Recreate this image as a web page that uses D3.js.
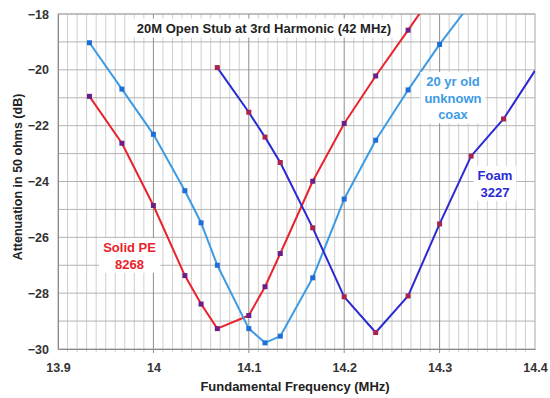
<!DOCTYPE html>
<html>
<head>
<meta charset="utf-8">
<script src="https://cdn.jsdelivr.net/npm/d3@7"></script>
<style>
  html, body { margin: 0; padding: 0; background: #fff; }
  svg { display: block; font-family: "Liberation Sans", Arial, sans-serif; }
</style>
</head>
<body>
<svg id="chart" width="550" height="398"></svg>
<script>
// Fundamental frequency (MHz) for each measured point
const solidPeFreq = [13.933, 13.967, 14.0, 14.033, 14.05, 14.067, 14.1, 14.117, 14.133, 14.167, 14.2, 14.233, 14.267, 14.3];
const solidPeAtten = [-20.95, -22.63, -24.86, -27.37, -28.39, -29.27, -28.80, -27.77, -26.58, -23.99, -21.92, -20.22, -18.58, -16.95];

const oldCoaxFreq = [13.933, 13.967, 14.0, 14.033, 14.05, 14.067, 14.1, 14.117, 14.133, 14.167, 14.2, 14.233, 14.267, 14.3, 14.333];
const oldCoaxAtten = [-19.03, -20.69, -22.31, -24.33, -25.48, -27.0, -29.27, -29.78, -29.54, -27.45, -24.63, -22.52, -20.72, -19.09, -17.6];

const foamFreq = [14.067, 14.1, 14.117, 14.133, 14.167, 14.2, 14.233, 14.267, 14.3, 14.333, 14.367, 14.4];
const foamAtten = [-19.92, -21.52, -22.41, -23.32, -25.66, -28.13, -29.41, -28.10, -25.52, -23.09, -21.76, -20.03];

const xTicks = [13.9, 14.0, 14.1, 14.2, 14.3, 14.4];
const xTickLabels = ["13.9", "14", "14.1", "14.2", "14.3", "14.4"];
const yTicks = [-30, -28, -26, -24, -22, -20, -18];

const titleText = "20M Open Stub at 3rd Harmonic (42 MHz)";
const xTitle = "Fundamental Frequency  (MHz)";
const yTitle = "Attenuation in 50 ohms (dB)";

const series = [
  { name: ["Solid PE", "8268"], freq: solidPeFreq, atten: solidPeAtten, line: "#e8232c", marker: "#6b1f86", label: { x: 13.975, y: -26.53 } },
  { name: ["20 yr old", "unknown", "coax"], freq: oldCoaxFreq, atten: oldCoaxAtten, line: "#3d9be4", marker: "#1c6fd6", label: { x: 14.314, y: -20.58 } },
  { name: ["Foam", "3227"], freq: foamFreq, atten: foamAtten, line: "#2a2ad2", marker: "#a8234f", label: { x: 14.358, y: -23.95 } }
];

const svg = d3.select("#chart");
const margin = { left: 58, right: 15, top: 14, bottom: 49 };
const W = 550, H = 398;
const x = d3.scaleLinear().domain([13.9, 14.4]).range([margin.left, W - margin.right]);
const y = d3.scaleLinear().domain([-30, -18]).range([H - margin.bottom, margin.top]);

const g = svg.append("g");

// minor vertical grid every 0.01 MHz
const minor = d3.range(1, 50).map(i => 13.9 + i * 0.01).filter(v => Math.abs(Math.round(v * 10) / 10 - v) > 1e-6);
g.append("g").selectAll("line").data(minor).join("line")
  .attr("x1", d => x(d)).attr("x2", d => x(d))
  .attr("y1", y(-18)).attr("y2", y(-30) + 3)
  .attr("stroke", "#cfcfcf").attr("stroke-width", 1);

// horizontal grid every 1 dB
g.append("g").selectAll("line").data(d3.range(-29, -17, 1)).join("line")
  .attr("x1", x(13.9)).attr("x2", x(14.4))
  .attr("y1", d => y(d)).attr("y2", d => y(d))
  .attr("stroke", "#b4b4b4").attr("stroke-width", 1);

// major vertical grid every 0.1 MHz
g.append("g").selectAll("line").data(xTicks.slice(1, -1)).join("line")
  .attr("x1", d => x(d)).attr("x2", d => x(d))
  .attr("y1", y(-18)).attr("y2", y(-30) + 4)
  .attr("stroke", "#8e8e8e").attr("stroke-width", 1);

// plot frame
g.append("rect")
  .attr("x", x(13.9)).attr("y", y(-18))
  .attr("width", x(14.4) - x(13.9)).attr("height", y(-30) - y(-18))
  .attr("fill", "none").attr("stroke", "#a8a8a8").attr("stroke-width", 1);

// axes
const xAxis = d3.axisBottom(x).tickValues(xTicks).tickFormat((d, i) => xTickLabels[i]).tickSize(0).tickPadding(14);
const yAxis = d3.axisLeft(y).tickValues(yTicks).tickFormat(d => d3.format("d")(d)).tickSize(0).tickPadding(9);

const gx = svg.append("g").attr("transform", `translate(0,${y(-30)})`).call(xAxis);
const gy = svg.append("g").attr("transform", `translate(${x(13.9)},0)`).call(yAxis);
[gx, gy].forEach(a => {
  a.select(".domain").attr("stroke", "#8a8a8a");
  a.selectAll("text").attr("font-size", 12.5).attr("font-weight", "bold")
    .attr("fill", "#333").attr("font-family", "Liberation Sans, Arial, sans-serif");
});

// title with white backing
const titleG = svg.append("g");
const titleEl = titleG.append("text")
  .attr("x", 264).attr("y", 32.5).attr("text-anchor", "middle")
  .attr("font-size", 13).attr("font-weight", "bold").attr("fill", "#222")
  .text(titleText);
const tb = titleEl.node().getBBox();
titleG.insert("rect", "text")
  .attr("x", tb.x - 4).attr("y", tb.y - 2).attr("width", tb.width + 8).attr("height", tb.height + 4)
  .attr("fill", "#fff");

// axis titles
svg.append("text")
  .attr("x", 295).attr("y", 391).attr("text-anchor", "middle")
  .attr("font-size", 13).attr("font-weight", "bold").attr("fill", "#222")
  .text(xTitle);
svg.append("text")
  .attr("transform", "translate(22,177) rotate(-90)").attr("text-anchor", "middle")
  .attr("font-size", 12.5).attr("font-weight", "bold").attr("fill", "#222")
  .text(yTitle);

// clip to plot area
svg.append("clipPath").attr("id", "plotClip").append("rect")
  .attr("x", x(13.9)).attr("y", y(-18))
  .attr("width", x(14.4) - x(13.9)).attr("height", y(-30) - y(-18));

const line = d3.line().x(d => x(d[0])).y(d => y(d[1]));
const plot = svg.append("g").attr("clip-path", "url(#plotClip)");

series.forEach(s => {
  const pts = s.freq.map((f, i) => [f, s.atten[i]]);
  plot.append("path").datum(pts)
    .attr("d", line).attr("fill", "none")
    .attr("stroke", s.line).attr("stroke-width", 2).attr("stroke-linejoin", "round");
  const shown = pts.filter(p => p[0] < 14.399 && p[1] <= -18);
  plot.append("g").selectAll("rect").data(shown).join("rect")
    .attr("x", d => x(d[0]) - 2.5).attr("y", d => y(d[1]) - 2.5)
    .attr("width", 5).attr("height", 5)
    .attr("fill", s.marker);
});

// series labels with white backing boxes
series.forEach(s => {
  const lg = svg.append("g");
  const t = lg.append("text")
    .attr("text-anchor", "middle")
    .attr("font-size", 13).attr("font-weight", "bold").attr("fill", s.line);
  s.name.forEach((ln, i) => {
    t.append("tspan").attr("x", x(s.label.x)).attr("y", y(s.label.y) + i * 16.6).text(ln);
  });
  const b = t.node().getBBox();
  lg.insert("rect", "text")
    .attr("x", b.x - 4).attr("y", b.y - 2).attr("width", b.width + 8).attr("height", b.height + 3)
    .attr("fill", "#fff");
});
</script>
</body>
</html>
